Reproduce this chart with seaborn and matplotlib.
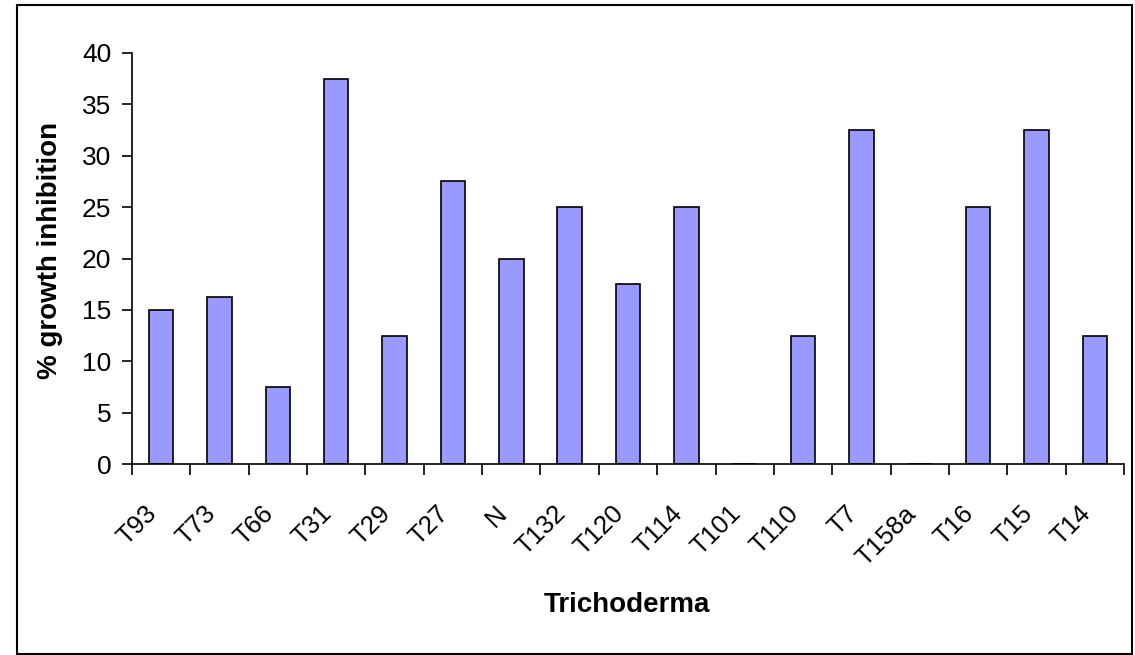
import numpy as np
import pandas as pd
import seaborn as sns
import matplotlib
matplotlib.use('Agg')
from matplotlib import pyplot as plt
from matplotlib.patches import Rectangle
import matplotlib.transforms as mtransforms

# data
strains = ['T93', 'T73', 'T66', 'T31', 'T29', 'T27', 'N', 'T132', 'T120', 'T114',
           'T101', 'T110', 'T7', 'T158a', 'T16', 'T15', 'T14']
inhibition = [15, 16.25, 7.5, 37.5, 12.5, 27.5, 20, 25, 17.5, 25,
              0, 12.5, 32.5, 0, 25, 32.5, 12.5]
y_ticks = [0, 5, 10, 15, 20, 25, 30, 35, 40]

df = pd.DataFrame({'strain': strains, 'inhibition': inhibition})

sns.set_style('white')
plt.rcParams['font.family'] = ['Liberation Sans', 'DejaVu Sans']
plt.rcParams['text.color'] = 'black'
plt.rcParams['xtick.color'] = 'black'
plt.rcParams['ytick.color'] = 'black'

fig = plt.figure(figsize=(11.35, 6.55), dpi=100)
ax = fig.add_axes([132/1135, 1-464/655, (1124-132)/1135, (464-53)/655])

sns.barplot(data=df, x='strain', y='inhibition', color='#9999FF', saturation=1,
            width=0.42, edgecolor='black', linewidth=1.2, ax=ax)

ax.set_xlim(-0.5, len(strains)-0.5)
ax.set_ylim(0, 40)
ax.set_yticks(y_ticks)
ax.tick_params(axis='y', direction='out', length=7, width=1.2, color='black',
               labelcolor='black', labelsize=19, pad=8, left=True)
# ticks between categories, labels at centers
ax.set_xticks(np.arange(len(strains)))
ax.set_xticks(np.arange(len(strains)+1) - 0.5, minor=True)
ax.tick_params(axis='x', which='major', length=0, pad=33, labelsize=18.5,
               labelcolor='black')
ax.tick_params(axis='x', which='minor', direction='out', length=8, width=1.2,
               color='black', bottom=True)
shift = mtransforms.ScaledTranslation(-8/100, 0, fig.dpi_scale_trans)
for lab in ax.get_xticklabels():
    lab.set_rotation(45)
    lab.set_ha('right')
    lab.set_va('center')
    lab.set_rotation_mode('anchor')
    lab.set_transform(lab.get_transform() + shift)

for s in ['top', 'right']:
    ax.spines[s].set_visible(False)
for s in ['left', 'bottom']:
    ax.spines[s].set_color('black')
    ax.spines[s].set_linewidth(1.2)
    ax.spines[s].set_zorder(5)

ax.set_xlabel('')
ax.set_ylabel('')
fig.text(50/1135, 1-250/655, '% growth inhibition', rotation=90, ha='center',
         va='center', fontsize=20, fontweight='bold', color='black')
fig.text(627/1135, 1-605/655, 'Trichoderma', ha='center', va='center',
         fontsize=20, fontweight='bold', color='black')

# outer chart frame
fig.patches.append(Rectangle((17/1135, 0.002), 1-17/1135-0.003, 1-5/655-0.002,
                             transform=fig.transFigure, fill=False,
                             edgecolor='black', linewidth=1.5))

fig.savefig('out.png', dpi=100)
